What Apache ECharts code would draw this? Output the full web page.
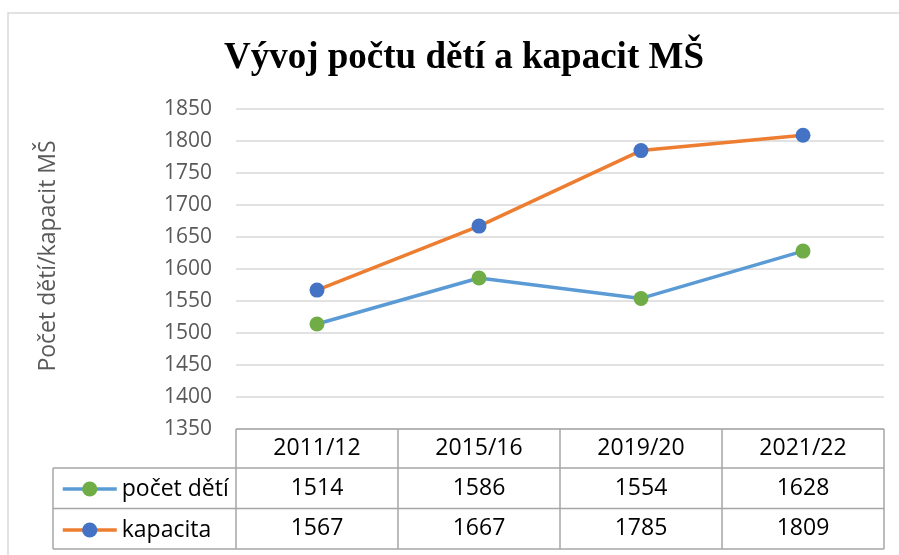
<!DOCTYPE html>
<html>
<head>
<meta charset="utf-8">
<script src="https://cdn.jsdelivr.net/npm/echarts@6/dist/echarts.min.js"></script>
<style>
  html, body { margin: 0; padding: 0; background: #fff; }
  #chart { width: 899px; height: 555px; }
</style>
</head>
<body>
<div id="chart"></div>
<script>
const years = ['2011/12', '2015/16', '2019/20', '2021/22']
const pocetDeti = [1514, 1586, 1554, 1628]
const kapacita = [1567, 1667, 1785, 1809]
const seriesNames = ['počet dětí', 'kapacita']

const font = 'Open Sans'
const chart = echarts.init(document.getElementById('chart'))

const option = {
    animation: false,
    title: {
        text: 'Vývoj počtu dětí a kapacit MŠ',
        left: 219,
        top: 35,
        textStyle: {
            fontFamily: 'Liberation Serif',
            fontWeight: 'bold',
            fontSize: 37,
            color: '#000'
        }
    },
    legend: {
        orient: 'vertical',
        left: 61,
        top: 476,
        padding: 0,
        itemWidth: 54,
        itemHeight: 19,
        itemGap: 15,
        lineStyle: { width: 3.5 },
        textStyle: {
            fontFamily: font,
            fontSize: 23,
            lineHeight: 26,
            color: '#000'
        },
        data: seriesNames
    },
    grid: {
        left: 236,
        right: 15,
        top: 109,
        bottom: 126
    },
    xAxis: {
        type: 'category',
        data: years,
        boundaryGap: true,
        axisLine: { show: false },
        axisTick: { show: false },
        axisLabel: {
            margin: 8,
            fontFamily: font,
            fontSize: 23,
            color: '#000'
        }
    },
    yAxis: {
        type: 'value',
        min: 1350,
        max: 1850,
        interval: 50,
        name: 'Počet dětí/kapacit MŠ',
        nameLocation: 'middle',
        nameGap: 176,
        nameTextStyle: {
            fontFamily: font,
            fontSize: 23,
            color: '#595959',
            padding: [0, 0, 0, 26]
        },
        axisLine: { show: false },
        axisTick: { show: false },
        axisLabel: {
            margin: 24,
            fontFamily: font,
            fontSize: 21,
            color: '#595959',
            formatter: function (v) { return String(v) }
        },
        splitLine: {
            lineStyle: { color: '#d9d9d9', width: 1.5 }
        }
    },
    series: [{
        name: seriesNames[0],
        type: 'line',
        data: pocetDeti,
        symbol: 'circle',
        symbolSize: 15,
        lineStyle: { color: '#5b9bd5', width: 3.5 },
        itemStyle: { color: '#70ad47' }
    }, {
        name: seriesNames[1],
        type: 'line',
        data: kapacita,
        symbol: 'circle',
        symbolSize: 15,
        lineStyle: { color: '#ed7d31', width: 3.5 },
        itemStyle: { color: '#4472c4' }
    }]
}

chart.setOption(option)

// data table under the plot, placed from the category axis
const centers = years.map(function (y) {
    return chart.convertToPixel({ xAxisIndex: 0 }, y)
})
const band = centers[1] - centers[0]
const edges = [centers[0] - band / 2]
centers.forEach(function (c) { edges.push(c + band / 2) })
const gridBottom = chart.convertToPixel({ yAxisIndex: 0 }, 1350)
const rowH = 40.5
const headH = 39
const tableLeft = 53
const rowTops = [gridBottom, gridBottom + headH, gridBottom + headH + rowH, gridBottom + headH + 2 * rowH]
const lineColor = '#a6a6a6'

const graphics = []
function hLine(x1, x2, y) {
    graphics.push({ type: 'line', silent: true, shape: { x1: x1, y1: y, x2: x2, y2: y }, style: { stroke: lineColor, lineWidth: 1.5 } })
}
function vLine(x, y1, y2) {
    graphics.push({ type: 'line', silent: true, shape: { x1: x, y1: y1, x2: x, y2: y2 }, style: { stroke: lineColor, lineWidth: 1.5 } })
}
hLine(edges[0], edges[edges.length - 1], rowTops[0])
hLine(tableLeft, edges[edges.length - 1], rowTops[1])
hLine(tableLeft, edges[edges.length - 1], rowTops[2])
hLine(tableLeft, edges[edges.length - 1], rowTops[3])
edges.forEach(function (x) { vLine(x, rowTops[0], rowTops[3]) })
vLine(tableLeft, rowTops[1], rowTops[3])

const rows = [pocetDeti, kapacita]
rows.forEach(function (vals, r) {
    vals.forEach(function (v, i) {
        graphics.push({
            type: 'text',
            silent: true,
            x: centers[i],
            y: rowTops[r + 1] + rowH / 2,
            style: {
                text: String(v),
                fontFamily: font,
                fontSize: 23,
                fill: '#000',
                align: 'center',
                verticalAlign: 'middle'
            }
        })
    })
})

// chart area frame
graphics.push({
    type: 'rect',
    silent: true,
    z: -10,
    shape: { x: 8, y: 13, width: 1000, height: 1000 },
    style: { fill: 'none', stroke: '#d9d9d9', lineWidth: 1.5 }
})

chart.setOption({ graphic: graphics })
</script>
</body>
</html>
